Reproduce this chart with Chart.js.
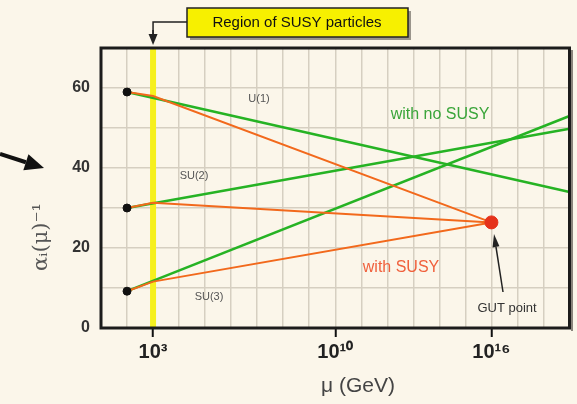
<!DOCTYPE html>
<html>
<head>
<meta charset="utf-8">
<script src="https://cdn.jsdelivr.net/npm/chart.js@4/dist/chart.umd.min.js"></script>
<style>
  html, body { margin: 0; padding: 0; background: #fbf6ea; }
  canvas { display: block; }
</style>
</head>
<body>
<canvas id="c" width="577" height="404"></canvas>
<script>
// ---- data ----
const couplings = ['U(1)', 'SU(2)', 'SU(3)'];
const scaleStart = 1e2;      // GeV, starting point (black dots)
const susyScale = 1e3;       // GeV, SUSY threshold (yellow band)
const gutScale = 1e16;       // GeV, GUT point
const scaleEnd = 1e19;       // GeV, right edge of plot
const alphaInvStart = [59, 30, 9.2];
const alphaInvNoSusyEnd = [34, 49.8, 53];
const alphaInvSusyThreshold = [58, 31.3, 11.6];
const alphaInvGut = 26.4;
const xTickExponents = [3, 10, 16];
const yTickLabels = [0, 20, 40, 60];
const supDigits = {'0':'⁰','1':'¹','2':'²','3':'³','4':'⁴','5':'⁵','6':'⁶','7':'⁷','8':'⁸','9':'⁹'};

// ---- styles ----
const GREEN = '#26b324';
const ORANGE = '#f2691c';
const BG = '#fbf6ea';
const GRID = '#d6cfc1';

const datasets = [];
couplings.forEach((name, i) => {
  datasets.push({
    label: name + ' (no SUSY)',
    data: [{x: scaleStart, y: alphaInvStart[i]}, {x: scaleEnd, y: alphaInvNoSusyEnd[i]}],
    showLine: true, borderColor: GREEN, borderWidth: 2.5, pointRadius: 0, order: 3
  });
});
couplings.forEach((name, i) => {
  datasets.push({
    label: name + ' (SUSY)',
    data: [{x: scaleStart, y: alphaInvStart[i]}, {x: susyScale, y: alphaInvSusyThreshold[i]}, {x: gutScale, y: alphaInvGut}],
    showLine: true, borderColor: ORANGE, borderWidth: 2, pointRadius: 0, order: 2
  });
});
datasets.push({
  label: 'start',
  data: alphaInvStart.map(v => ({x: scaleStart, y: v})),
  showLine: false, pointRadius: 4, pointBackgroundColor: '#111', pointBorderColor: '#111', order: 1
});
datasets.push({
  label: 'GUT point',
  data: [{x: gutScale, y: alphaInvGut}],
  showLine: false, pointRadius: 6.5, pointBackgroundColor: '#e5321b', pointBorderColor: '#e5321b', order: 0
});

function isLabeledX(v) {
  const e = Math.round(Math.log10(v));
  return xTickExponents.includes(e);
}

function arrow(ctx, x1, y1, x2, y2, headLen, headW, lw, color) {
  const ang = Math.atan2(y2 - y1, x2 - x1);
  const bx = x2 - headLen * Math.cos(ang), by = y2 - headLen * Math.sin(ang);
  ctx.save();
  ctx.strokeStyle = color; ctx.fillStyle = color; ctx.lineWidth = lw;
  ctx.beginPath(); ctx.moveTo(x1, y1); ctx.lineTo(bx, by); ctx.stroke();
  ctx.beginPath();
  ctx.moveTo(x2, y2);
  ctx.lineTo(bx + headW / 2 * Math.sin(ang), by - headW / 2 * Math.cos(ang));
  ctx.lineTo(bx - headW / 2 * Math.sin(ang), by + headW / 2 * Math.cos(ang));
  ctx.closePath(); ctx.fill();
  ctx.restore();
}

const decor = {
  id: 'decor',
  beforeDraw(chart) {
    const ctx = chart.ctx;
    ctx.save(); ctx.fillStyle = BG; ctx.fillRect(0, 0, chart.width, chart.height); ctx.restore();
  },
  beforeDatasetsDraw(chart) {
    const ctx = chart.ctx, a = chart.chartArea, xs = chart.scales.x;
    const px = xs.getPixelForValue(susyScale);
    ctx.save();
    ctx.fillStyle = '#f6f01e';
    ctx.fillRect(px - 3, a.top, 6, a.bottom - a.top);
    ctx.restore();
  },
  afterDatasetsDraw(chart) {
    const ctx = chart.ctx, a = chart.chartArea, xs = chart.scales.x;
    ctx.save();
    // frame
    ctx.strokeStyle = '#8a857c'; ctx.lineWidth = 2;
    ctx.beginPath(); ctx.moveTo(a.right + 2.5, a.top + 2); ctx.lineTo(a.right + 2.5, a.bottom + 3); ctx.stroke();
    ctx.strokeStyle = '#1c1c1c'; ctx.lineWidth = 3;
    ctx.strokeRect(a.left, a.top, a.right - a.left, a.bottom - a.top);

    // in-plot labels
    ctx.textAlign = 'center'; ctx.textBaseline = 'middle';
    ctx.fillStyle = '#555';
    ctx.font = '11px "Liberation Sans", Arial, sans-serif';
    ctx.fillText(couplings[0], 259, 99);
    ctx.fillText(couplings[1], 194, 176);
    ctx.fillText(couplings[2], 209, 297);
    ctx.font = '16px "Liberation Sans", Arial, sans-serif';
    ctx.fillStyle = '#3aa53a';
    ctx.fillText('with no SUSY', 440, 115);
    ctx.fillStyle = '#f0603c';
    ctx.fillText('with SUSY', 401, 268);
    ctx.fillStyle = '#333';
    ctx.font = '13px "Liberation Sans", Arial, sans-serif';
    ctx.fillText('GUT point', 507, 308);
    arrow(ctx, 503, 292, 494, 234, 13, 7, 1.5, '#222');

    // Region of SUSY particles box
    const sx = xs.getPixelForValue(susyScale);
    ctx.fillStyle = '#9a958c';
    ctx.fillRect(190, 11, 221, 29);
    ctx.fillStyle = '#f7f000';
    ctx.fillRect(187, 8, 221, 29);
    ctx.strokeStyle = '#222'; ctx.lineWidth = 1.5;
    ctx.strokeRect(187, 8, 221, 29);
    ctx.fillStyle = '#111';
    ctx.font = '15px "Liberation Sans", Arial, sans-serif';
    ctx.fillText('Region of SUSY particles', 297, 23);
    ctx.beginPath(); ctx.moveTo(187, 22); ctx.lineTo(sx, 22); ctx.lineTo(sx, 34); ctx.stroke();
    arrow(ctx, sx, 30, sx, 45, 11, 9, 1.5, '#222');

    // big left arrow
    arrow(ctx, 0, 154, 44, 168, 19, 17, 4, '#111');

    // x axis title
    ctx.fillStyle = '#444';
    ctx.font = '21px "Liberation Sans", Arial, sans-serif';
    ctx.fillText('μ (GeV)', 358, 386);

    // y axis title
    ctx.translate(42, 237);
    ctx.rotate(-Math.PI / 2);
    ctx.fillStyle = '#555';
    ctx.font = '21px "DejaVu Serif", "Liberation Serif", serif';
    ctx.fillText('αᵢ(μ)⁻¹', 0, 0);
    ctx.restore();
  }
};

new Chart(document.getElementById('c'), {
  type: 'scatter',
  data: { datasets },
  plugins: [decor],
  options: {
    responsive: false,
    animation: false,
    devicePixelRatio: 1,
    layout: { padding: { left: 0, top: 48, right: 5, bottom: 0 } },
    plugins: { legend: { display: false }, tooltip: { enabled: false } },
    elements: { line: { tension: 0 } },
    scales: {
      x: {
        type: 'logarithmic',
        min: 1e1, max: scaleEnd,
        afterBuildTicks(scale) {
          const t = [];
          for (let e = 1; e <= 19; e++) t.push({ value: Math.pow(10, e) });
          scale.ticks = t;
        },
        afterFit(scale) { scale.height = 76; },
        border: { display: false },
        grid: {
          color: GRID, lineWidth: 1.5, drawTicks: true, tickLength: 9, tickWidth: 2,
          tickColor: ctx => (ctx.tick && isLabeledX(ctx.tick.value)) ? '#111' : 'rgba(0,0,0,0)'
        },
        ticks: {
          autoSkip: false, maxRotation: 0, padding: 3,
          color: '#222',
          font: { family: '"Liberation Sans", Arial, sans-serif', size: 20, weight: 'bold' },
          callback(v) {
            const e = Math.round(Math.log10(v));
            if (!xTickExponents.includes(e)) return '';
            return '10' + String(e).split('').map(d => supDigits[d]).join('');
          }
        },
        title: { display: false }
      },
      y: {
        min: 0, max: 70,
        afterFit(scale) { scale.width = 101; },
        border: { display: false },
        grid: { color: GRID, lineWidth: 1.5, drawTicks: false },
        ticks: {
          stepSize: 10, padding: 11, color: '#333',
          font: { family: '"Liberation Sans", Arial, sans-serif', size: 16, weight: 'bold' },
          callback(v) { return yTickLabels.includes(v) ? String(v) : ''; }
        },
        title: { display: false }
      }
    }
  }
});
</script>
</body>
</html>
